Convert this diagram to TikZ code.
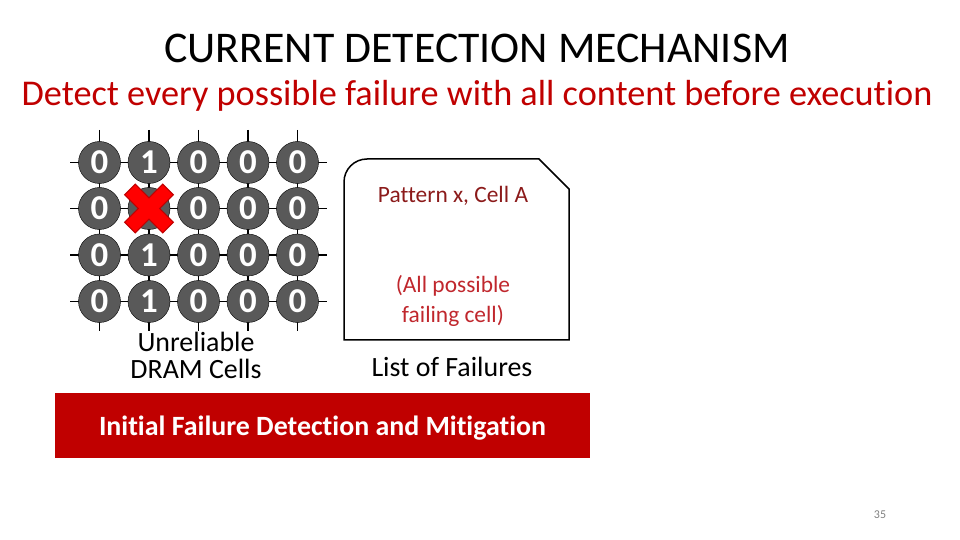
\documentclass[tikz,border=0pt]{standalone}
\usepackage{fontspec}
\setmainfont{Carlito}[Ligatures=NoCommon]
\usetikzlibrary{positioning, calc}
\definecolor{cellgray}{HTML}{595959}
\definecolor{bannerred}{HTML}{C00000}
\definecolor{crossred}{HTML}{FF0000}
\definecolor{listred}{HTML}{8B1A1A}
\definecolor{notered}{HTML}{C0272D}

\begin{document}
\begin{tikzpicture}[x=1bp, y=-1bp,
  cell/.style={circle, draw=black, fill=cellgray, minimum size=42bp,
               inner sep=0pt, text=white,
               font=\fontsize{35}{35}\selectfont\bfseries},
  wire/.style={draw=black, line width=1.3bp},
  banner/.style={rectangle, fill=bannerred, minimum width=535bp,
                 minimum height=65bp, text=white, text depth=0pt,
                 font=\fontsize{28}{28}\selectfont\bfseries},
  label/.style={align=center, font=\fontsize{28}{27}\selectfont}
]
  \useasboundingbox (0,0) rectangle (960,540);

  % titles
  \node (title) at (477,48) {\fontsize{44}{44}\selectfont CURRENT DETECTION MECHANISM};
  \node[text=bannerred] (subtitle) at (477,96)
    {\fontsize{36.4}{36}\selectfont Detect every possible failure with all content before execution};

  % grid wires
  \foreach \j/\x in {1/99.5, 2/149, 3/198.5, 4/248, 5/297.5} {
    \coordinate (top\j) at (\x,130);
    \coordinate (bot\j) at (\x,331);
    \draw[wire] (top\j) -- (bot\j);
  }
  \foreach \i/\y in {1/162.5, 2/208.5, 3/255, 4/301.5} {
    \coordinate (lft\i) at (70,\y);
    \coordinate (rgt\i) at (327,\y);
    \draw[wire] (lft\i) -- (rgt\i);
  }

  % cells
  \foreach \i/\a/\b/\c/\d/\e in {1/0/1/0/0/0, 2/0/{}/0/0/0, 3/0/1/0/0/0, 4/0/1/0/0/0} {
    \node[cell] (c\i-1) at (top1 |- lft\i) {\a};
    \node[cell] (c\i-2) at (top2 |- lft\i) {\b};
    \node[cell] (c\i-3) at (top3 |- lft\i) {\c};
    \node[cell] (c\i-4) at (top4 |- lft\i) {\d};
    \node[cell] (c\i-5) at (top5 |- lft\i) {\e};
  }

  % failing cell
  \draw[fill=crossred, draw=bannerred, line width=1bp, rotate around={45:(c2-2)}]
    ($(c2-2)+(-7.5,-27)$) -- ($(c2-2)+(7.5,-27)$) -- ($(c2-2)+(7.5,-7.5)$)
    -- ($(c2-2)+(27,-7.5)$) -- ($(c2-2)+(27,7.5)$) -- ($(c2-2)+(7.5,7.5)$)
    -- ($(c2-2)+(7.5,27)$) -- ($(c2-2)+(-7.5,27)$) -- ($(c2-2)+(-7.5,7.5)$)
    -- ($(c2-2)+(-27,7.5)$) -- ($(c2-2)+(-27,-7.5)$) -- ($(c2-2)+(-7.5,-7.5)$)
    -- cycle;

  \node[label] (cells) at (196,355) {Unreliable\\DRAM Cells};

  % list of failures
  \draw[line width=1.5bp] (344,340) -- (344,182)
    arc[start angle=180, end angle=270, radius=23] -- (539,159)
    -- (569,189) -- (569,340) -- cycle;
  \node[text=listred, font=\fontsize{23.5}{23}\selectfont] (pattern) at (453,196) {Pattern x, Cell A};
  \node[text=notered, align=center, font=\fontsize{23.5}{30}\selectfont] (allcells) at (453,301)
    {(All possible\\failing cell)};
  \node[font=\fontsize{28}{28}\selectfont] (listfail) at (452,367) {List of Failures};

  \node[banner] (detect) at (322.5,425.5) {Initial Failure Detection and Mitigation};

  \node[text=gray, font=\fontsize{12}{12}\selectfont] (pagenum) at (880,515) {35};
\end{tikzpicture}
\end{document}
